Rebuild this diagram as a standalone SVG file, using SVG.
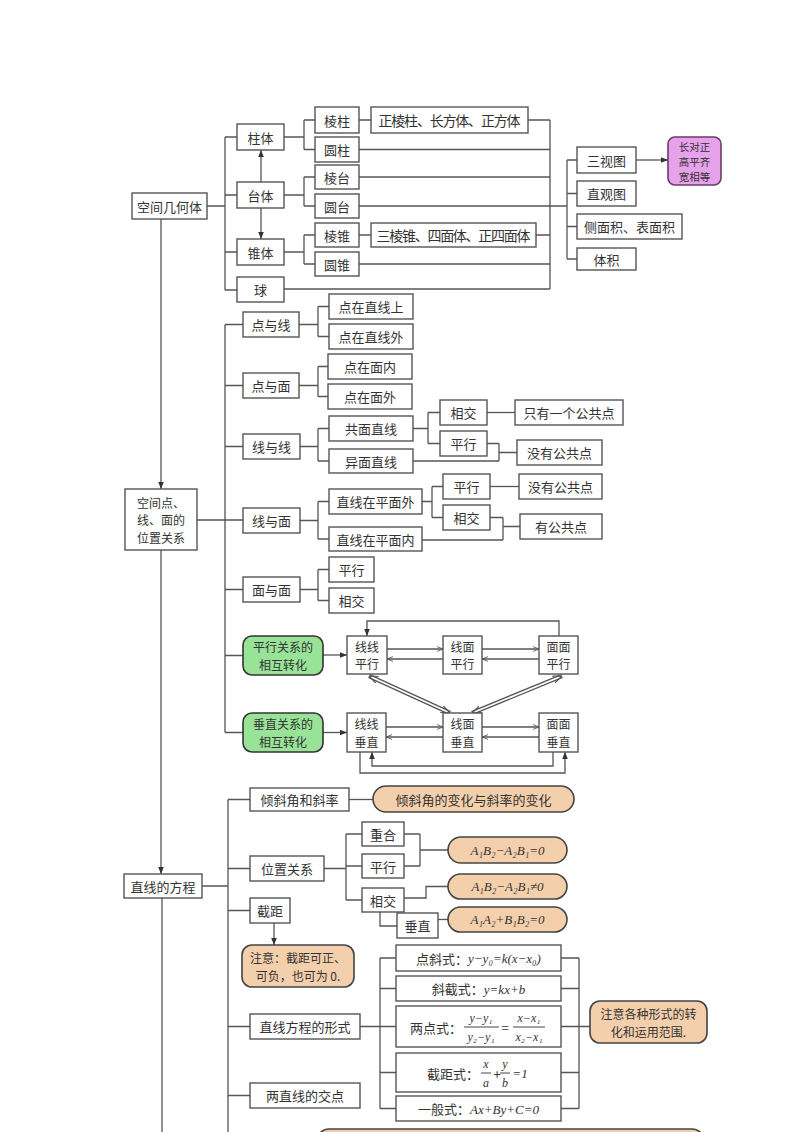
<svg xmlns="http://www.w3.org/2000/svg" width="800" height="1132" viewBox="0 0 800 1132">
<defs>
<style>
.b{fill:#fff;stroke:#555;stroke-width:1.4}
.g{fill:#98e398;stroke:#333;stroke-width:1.6}
.p{fill:#f4cfab;stroke:#444;stroke-width:1.6}
.m{fill:#e6a2ea;stroke:#6b3b6b;stroke-width:1.6}
.t{font-family:"Noto Sans CJK SC","Noto Sans",sans-serif;font-size:13px;fill:#333;text-anchor:middle;dominant-baseline:central}
.s{font-size:12px}
.f{font-family:"Liberation Serif","DejaVu Serif",serif;font-style:italic}
.cn line,.cn path{stroke:#555;stroke-width:1.3;fill:none}
</style>
<marker id="af" viewBox="0 0 10 10" refX="10" refY="5" markerWidth="7" markerHeight="7" markerUnits="userSpaceOnUse" orient="auto-start-reverse"><path d="M0,1 L10,5 L0,9 z" fill="#333"/></marker>
<marker id="ao" viewBox="0 0 10 10" refX="10" refY="5" markerWidth="6" markerHeight="6" markerUnits="userSpaceOnUse" orient="auto-start-reverse"><path d="M0,1 L10,5 L0,9" fill="none" stroke="#555" stroke-width="1.4"/></marker>
<marker id="ad" viewBox="0 0 10 10" refX="10" refY="5" markerWidth="9" markerHeight="9" markerUnits="userSpaceOnUse" orient="auto-start-reverse"><path d="M0,1 L10,5 L0,9" fill="none" stroke="#555" stroke-width="1.3"/></marker>
</defs>
<rect width="800" height="1132" fill="#fff"/>

<g id="connectors" class="cn">
<!-- section 1 -->
<path d="M207,206 H225 M225,137 V290 M225,137 H237 M225,195 H237 M225,252 H237 M225,290 H237"/>
<path d="M261,182 V150" marker-end="url(#af)"/>
<path d="M261,207 V239" marker-end="url(#af)"/>
<path d="M284,137 H304 M304,120 V149.5 M304,120 H315 M304,149.5 H315"/>
<path d="M284,195 H304 M304,177 V206 M304,177 H315 M304,206 H315"/>
<path d="M284,252 H304 M304,235 V264 M304,235 H315 M304,264 H315"/>
<path d="M359,120 H371 M359,235 H371"/>
<path d="M528,120 H550 M359,149.5 H550 M359,177 H550 M359,206 H567 M536,235 H550 M359,264 H550 M284,289 H550 M550,120 V289"/>
<path d="M567,160 V259 M567,160 H577 M567,193.5 H577 M567,226.5 H577 M567,259 H577"/>
<path d="M636,160 H668" marker-end="url(#af)"/>
<path d="M161,219 V489" marker-end="url(#af)"/>
<path d="M161,550 V874" marker-end="url(#af)"/>
<path d="M162,898 V1132"/>
<!-- section 2 -->
<path d="M197,520 H243 M225,324.5 V732.5 M225,324.5 H243 M225,385.5 H243 M225,446.5 H243 M225,589.5 H243 M225,655.5 H243 M225,732.5 H243"/>
<path d="M299,324.5 H318 M318,306.5 V336.5 M318,306.5 H329 M318,336.5 H329"/>
<path d="M299,385.5 H318 M318,366.5 V396.5 M318,366.5 H328 M318,396.5 H328"/>
<path d="M300,446.5 H318 M318,428.5 V461 M318,428.5 H329 M318,461 H329"/>
<path d="M413,428.5 H428 M428,412.5 V443.5 M428,412.5 H440 M428,443.5 H440"/>
<path d="M487,412.5 H515"/>
<path d="M487,443.5 H499 M413,461 H499 M499,443.5 V461 M499,452.5 H517"/>
<path d="M300,520.5 H318 M318,501.5 V539 M318,501.5 H329 M318,539 H329"/>
<path d="M422,501.5 H432 M432,486.5 V517.5 M432,486.5 H443 M432,517.5 H443"/>
<path d="M490,486.5 H519"/>
<path d="M490,517.5 H503 M422,540 H503 M503,517.5 V540 M503,526.5 H520"/>
<path d="M300,589.5 H318 M318,569.5 V600.5 M318,569.5 H329 M318,600.5 H329"/>
<!-- section 3 -->
<path d="M323,655 H347" marker-end="url(#af)"/>
<path d="M323,732.5 H347" marker-end="url(#af)"/>
<path d="M387,649 H443" marker-end="url(#ao)"/>
<path d="M443,659 H387" marker-end="url(#ao)"/>
<path d="M482,649 H539" marker-end="url(#ao)"/>
<path d="M539,659 H482" marker-end="url(#ao)"/>
<path d="M386,727 H443" marker-end="url(#ao)"/>
<path d="M443,737 H386" marker-end="url(#ao)"/>
<path d="M482,727 H539" marker-end="url(#ao)"/>
<path d="M539,737 H482" marker-end="url(#ao)"/>
<path d="M559,636 V621 H367 V636" marker-end="url(#af)"/>
<path d="M553,752 V766 H372 V752" marker-end="url(#af)"/>
<path d="M360,752 V773 H565 V752" marker-end="url(#af)"/>
<path d="M369,676 L450,713" style="stroke:#555;stroke-width:4.4"/>
<path d="M369,676 L450,713" style="stroke:#fff;stroke-width:1.8"/>
<path d="M562,676 L472,713" style="stroke:#555;stroke-width:4.4"/>
<path d="M562,676 L472,713" style="stroke:#fff;stroke-width:1.8"/>
<path d="M369,676 L450,713" style="stroke:none" marker-start="url(#ad)" marker-end="url(#ad)"/>
<path d="M562,676 L472,713" style="stroke:none" marker-start="url(#ad)" marker-end="url(#ad)"/>
<!-- section 4 -->
<path d="M202,886 H228 M228,799.5 V1132 M228,799.5 H250 M228,868.5 H250 M228,910.5 H250 M228,1026.5 H250 M228,1095.5 H250"/>
<path d="M349,799.5 H373"/>
<path d="M324,868.5 H346 M346,834 V900 M346,834 H362 M346,866 H362 M346,900 H362"/>
<path d="M404,834 H420 M404,866 H420 M420,834 V866 M420,850 H448"/>
<path d="M404,898 H426 V886.5 H448"/>
<path d="M380,912 V926 H397"/>
<path d="M438,919.5 H448"/>
<path d="M274,923 V945" marker-end="url(#af)"/>
<path d="M360,1026.5 H380 M380,958 V1108.5 M380,958 H396 M380,988.5 H396 M380,1026.5 H396 M380,1072.5 H396 M380,1108.5 H396"/>
<path d="M561,958 H579 M561,988.5 H579 M561,1026.5 H590 M561,1072.5 H579 M561,1108.5 H579 M579,958 V1108.5"/>
</g>

<!-- Section 1 -->
<g id="n-kongjianjihe"><rect class="b" x="132" y="193" width="75" height="26"/><text class="t" x="169.5" y="206">空间几何体</text></g>
<g id="n-zhuti"><rect class="b" x="237" y="124" width="47" height="26"/><text class="t" x="260.5" y="137">柱体</text></g>
<g id="n-taiti"><rect class="b" x="237" y="182" width="47" height="26"/><text class="t" x="260.5" y="195">台体</text></g>
<g id="n-zhuiti"><rect class="b" x="237" y="239" width="47" height="26"/><text class="t" x="260.5" y="252">锥体</text></g>
<g id="n-qiu"><rect class="b" x="237" y="277" width="47" height="25"/><text class="t" x="260.5" y="289.5">球</text></g>
<g id="n-lengzhu"><rect class="b" x="315" y="107" width="44" height="26"/><text class="t" x="337" y="120">棱柱</text></g>
<g id="n-yuanzhu"><rect class="b" x="315" y="137" width="44" height="25"/><text class="t" x="337" y="149.5">圆柱</text></g>
<g id="n-lengtai"><rect class="b" x="315" y="165" width="44" height="24"/><text class="t" x="337" y="177">棱台</text></g>
<g id="n-yuantai"><rect class="b" x="315" y="194" width="44" height="24"/><text class="t" x="337" y="206">圆台</text></g>
<g id="n-lengzhui"><rect class="b" x="315" y="223" width="44" height="24"/><text class="t" x="337" y="235">棱锥</text></g>
<g id="n-yuanzhui"><rect class="b" x="315" y="252" width="44" height="24"/><text class="t" x="337" y="264">圆锥</text></g>
<g id="n-ex1"><rect class="b" x="371" y="107" width="157" height="26"/><text class="t" x="449.5" y="120" style="font-size:14px" textLength="142" lengthAdjust="spacing">正棱柱、长方体、正方体</text></g>
<g id="n-ex2"><rect class="b" x="371" y="223" width="165" height="24"/><text class="t" x="453.5" y="235" style="font-size:14px" textLength="154" lengthAdjust="spacing">三棱锥、四面体、正四面体</text></g>
<g id="n-sanshitu"><rect class="b" x="577" y="147" width="59" height="26"/><text class="t" x="606.5" y="160">三视图</text></g>
<g id="n-zhiguantu"><rect class="b" x="577" y="181" width="59" height="25"/><text class="t" x="606.5" y="193.5">直观图</text></g>
<g id="n-mianji"><rect class="b" x="577" y="214" width="105" height="25"/><text class="t" x="629.5" y="226.5">侧面积、表面积</text></g>
<g id="n-tiji"><rect class="b" x="577" y="248" width="59" height="22"/><text class="t" x="606.5" y="259">体积</text></g>
<g id="n-changduizheng"><rect class="m" x="668" y="137" width="53" height="48" rx="7"/><text class="t" x="694.5" y="146" style="font-size:10.5px">长对正</text><text class="t" x="694.5" y="161.2" style="font-size:10.5px">高平齐</text><text class="t" x="694.5" y="176.4" style="font-size:10.5px">宽相等</text></g>

<!-- Section 2 -->
<g id="n-weizhi"><rect class="b" x="125" y="489" width="72" height="61"/><text class="t s" x="161" y="502">空间点、</text><text class="t s" x="161" y="519.5">线、面的</text><text class="t s" x="161" y="537">位置关系</text></g>
<g id="n-dianyuxian"><rect class="b" x="243" y="312" width="56" height="25"/><text class="t" x="271" y="324.5">点与线</text></g>
<g id="n-zaizhixianshang"><rect class="b" x="329" y="294" width="84" height="25"/><text class="t" x="371" y="306.5">点在直线上</text></g>
<g id="n-zaizhixianwai"><rect class="b" x="329" y="324" width="84" height="25"/><text class="t" x="371" y="336.5">点在直线外</text></g>
<g id="n-dianyumian"><rect class="b" x="243" y="373" width="56" height="25"/><text class="t" x="271" y="385.5">点与面</text></g>
<g id="n-zaimiannei"><rect class="b" x="328" y="354" width="84" height="25"/><text class="t" x="370" y="366.5">点在面内</text></g>
<g id="n-zaimianwai"><rect class="b" x="328" y="384" width="84" height="25"/><text class="t" x="370" y="396.5">点在面外</text></g>
<g id="n-xianyuxian"><rect class="b" x="243" y="434" width="57" height="25"/><text class="t" x="271.5" y="446.5">线与线</text></g>
<g id="n-gongmian"><rect class="b" x="329" y="416" width="84" height="25"/><text class="t" x="371" y="428.5">共面直线</text></g>
<g id="n-yimian"><rect class="b" x="329" y="449" width="84" height="24"/><text class="t" x="371" y="461">异面直线</text></g>
<g id="n-xiangjiao1"><rect class="b" x="440" y="400" width="47" height="25"/><text class="t" x="463.5" y="412.5">相交</text></g>
<g id="n-pingxing1"><rect class="b" x="440" y="431" width="47" height="25"/><text class="t" x="463.5" y="443.5">平行</text></g>
<g id="n-zhiyouyige"><rect class="b" x="515" y="400" width="108" height="25"/><text class="t" x="569" y="412.5">只有一个公共点</text></g>
<g id="n-meiyou1"><rect class="b" x="517" y="440" width="85" height="25"/><text class="t" x="559.5" y="452.5">没有公共点</text></g>
<g id="n-xianyumian"><rect class="b" x="243" y="508" width="57" height="25"/><text class="t" x="271.5" y="520.5">线与面</text></g>
<g id="n-pingmianwai"><rect class="b" x="329" y="489" width="93" height="25"/><text class="t" x="375.5" y="501.5">直线在平面外</text></g>
<g id="n-pingmiannei"><rect class="b" x="329" y="527" width="93" height="24"/><text class="t" x="375.5" y="539">直线在平面内</text></g>
<g id="n-pingxing2"><rect class="b" x="443" y="474" width="47" height="25"/><text class="t" x="466.5" y="486.5">平行</text></g>
<g id="n-xiangjiao2"><rect class="b" x="443" y="505" width="47" height="25"/><text class="t" x="466.5" y="517.5">相交</text></g>
<g id="n-meiyou2"><rect class="b" x="519" y="474" width="83" height="25"/><text class="t" x="560.5" y="486.5">没有公共点</text></g>
<g id="n-yougonggong"><rect class="b" x="520" y="514" width="82" height="25"/><text class="t" x="561" y="526.5">有公共点</text></g>
<g id="n-mianyumian"><rect class="b" x="243" y="577" width="57" height="25"/><text class="t" x="271.5" y="589.5">面与面</text></g>
<g id="n-pingxing3"><rect class="b" x="329" y="557" width="45" height="25"/><text class="t" x="351.5" y="569.5">平行</text></g>
<g id="n-xiangjiao3"><rect class="b" x="329" y="588" width="45" height="25"/><text class="t" x="351.5" y="600.5">相交</text></g>

<!-- Section 3 -->
<g id="n-pxzh"><rect class="g" x="243" y="636" width="80" height="39" rx="9"/><text class="t s" x="283" y="646.8">平行关系的</text><text class="t s" x="283" y="664.4">相互转化</text></g>
<g id="n-czzh"><rect class="g" x="243" y="713" width="80" height="39" rx="9"/><text class="t s" x="283" y="723.8">垂直关系的</text><text class="t s" x="283" y="741.4">相互转化</text></g>
<g id="n-xxpx"><rect class="b" x="347" y="636" width="40" height="38"/><text class="t s" x="367" y="646.3">线线</text><text class="t s" x="367" y="663.9">平行</text></g>
<g id="n-xmpx"><rect class="b" x="443" y="636" width="39" height="38"/><text class="t s" x="462.5" y="646.3">线面</text><text class="t s" x="462.5" y="663.9">平行</text></g>
<g id="n-mmpx"><rect class="b" x="539" y="636" width="39" height="38"/><text class="t s" x="558.5" y="646.3">面面</text><text class="t s" x="558.5" y="663.9">平行</text></g>
<g id="n-xxcz"><rect class="b" x="347" y="713" width="39" height="39"/><text class="t s" x="366.5" y="723.8">线线</text><text class="t s" x="366.5" y="741.4">垂直</text></g>
<g id="n-xmcz"><rect class="b" x="443" y="713" width="39" height="39"/><text class="t s" x="462.5" y="723.8">线面</text><text class="t s" x="462.5" y="741.4">垂直</text></g>
<g id="n-mmcz"><rect class="b" x="539" y="713" width="39" height="39"/><text class="t s" x="558.5" y="723.8">面面</text><text class="t s" x="558.5" y="741.4">垂直</text></g>

<!-- Section 4 -->
<g id="n-fangcheng"><rect class="b" x="124" y="874" width="78" height="24"/><text class="t" x="163" y="886">直线的方程</text></g>
<g id="n-qingxiejiao"><rect class="b" x="250" y="788" width="99" height="23"/><text class="t" x="299.5" y="799.5">倾斜角和斜率</text></g>
<g id="n-bianhua"><rect class="p" x="373" y="786" width="201" height="26" rx="13"/><text class="t" x="473.5" y="799">倾斜角的变化与斜率的变化</text></g>
<g id="n-weizhiguanxi"><rect class="b" x="250" y="856" width="74" height="25"/><text class="t" x="287" y="868.5">位置关系</text></g>
<g id="n-chonghe"><rect class="b" x="362" y="822" width="42" height="24"/><text class="t" x="383" y="834">重合</text></g>
<g id="n-pingxing4"><rect class="b" x="362" y="854" width="42" height="24"/><text class="t" x="383" y="866">平行</text></g>
<g id="n-xiangjiao4"><rect class="b" x="362" y="888" width="42" height="24"/><text class="t" x="383" y="900">相交</text></g>
<g id="n-chuizhi"><rect class="b" x="397" y="913" width="41" height="25"/><text class="t" x="417.5" y="925.5">垂直</text></g>
<g id="n-f1"><rect class="p" x="448" y="837" width="119" height="26" rx="13"/><text class="t f" x="507.5" y="850">A₁B₂−A₂B₁=0</text></g>
<g id="n-f2"><rect class="p" x="448" y="874" width="119" height="25" rx="12.5"/><text class="t f" x="507.5" y="886.5">A₁B₂−A₂B₁≠0</text></g>
<g id="n-f3"><rect class="p" x="448" y="907" width="119" height="25" rx="12.5"/><text class="t f" x="507.5" y="919.5">A₁A₂+B₁B₂=0</text></g>
<g id="n-jieju"><rect class="b" x="250" y="898" width="40" height="25"/><text class="t" x="270" y="910.5">截距</text></g>
<g id="n-zhuyi1"><rect class="p" x="242" y="945" width="112" height="42" rx="10"/><text class="t s" x="298" y="957">注意：截距可正、</text><text class="t s" x="298" y="975">可负，也可为 0.</text></g>
<g id="n-xingshi"><rect class="b" x="250" y="1014" width="110" height="25"/><text class="t" x="305" y="1026.5">直线方程的形式</text></g>
<g id="n-jiaodian"><rect class="b" x="250" y="1083" width="110" height="25"/><text class="t" x="305" y="1095.5">两直线的交点</text></g>
<g id="n-dianxie"><rect class="b" x="396" y="945" width="165" height="26"/><text class="t" x="478.5" y="958">点斜式：<tspan class="f">y−y₀=k(x−x₀)</tspan></text></g>
<g id="n-xiejie"><rect class="b" x="396" y="976" width="165" height="25"/><text class="t" x="478.5" y="988.5">斜截式：<tspan class="f">y=kx+b</tspan></text></g>
<g id="n-liangdian"><rect class="b" x="396" y="1006" width="165" height="41"/><text class="t" x="436" y="1027">两点式：</text>
<text class="t f s" x="481" y="1018">y−y₁</text><line x1="464" y1="1027" x2="499" y2="1027" stroke="#444" stroke-width="1"/><text class="t f s" x="481" y="1037">y₂−y₁</text>
<text class="t" x="505" y="1027">=</text>
<text class="t f s" x="529" y="1018">x−x₁</text><line x1="513" y1="1027" x2="545" y2="1027" stroke="#444" stroke-width="1"/><text class="t f s" x="529" y="1037">x₂−x₁</text></g>
<g id="n-jiejushi"><rect class="b" x="396" y="1053" width="165" height="39"/><text class="t" x="453" y="1073">截距式：</text>
<text class="t f s" x="486" y="1064">x</text><line x1="481" y1="1073" x2="491" y2="1073" stroke="#444" stroke-width="1"/><text class="t f s" x="486" y="1082.5">a</text>
<text class="t" x="497" y="1073">+</text>
<text class="t f s" x="505" y="1064">y</text><line x1="500" y1="1073" x2="510" y2="1073" stroke="#444" stroke-width="1"/><text class="t f s" x="505" y="1082.5">b</text>
<text class="t f" x="520" y="1073">=1</text></g>
<g id="n-yiban"><rect class="b" x="396" y="1096" width="165" height="25"/><text class="t" x="478.5" y="1108.5">一般式：<tspan class="f">Ax+By+C=0</tspan></text></g>
<g id="n-zhuyi2"><rect class="p" x="590" y="1001" width="117" height="42" rx="10"/><text class="t s" x="648.5" y="1013">注意各种形式的转</text><text class="t s" x="648.5" y="1031">化和运用范围.</text></g>
<g id="n-bottom"><rect class="p" x="317" y="1129" width="387" height="30" rx="12"/></g>
</svg>
